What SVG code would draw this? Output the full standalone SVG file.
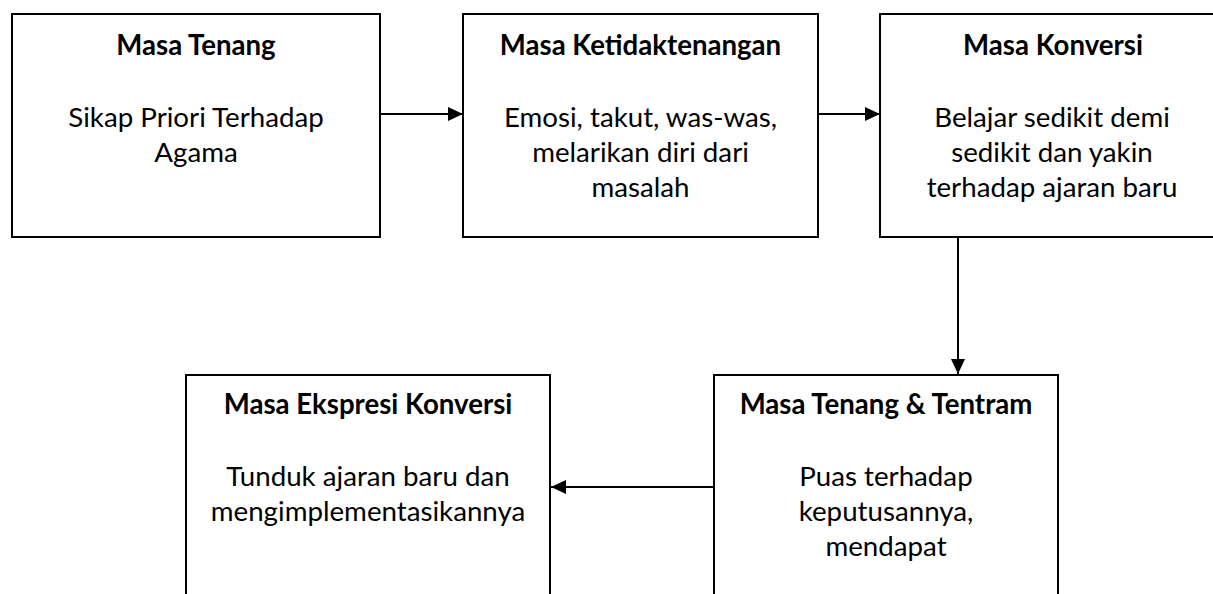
<svg xmlns="http://www.w3.org/2000/svg" width="1213" height="594" viewBox="0 0 1213 594">
  <style>
    .box { fill: #ffffff; stroke: #000000; stroke-width: 2; }
    .title { font-family: Lato, "Noto Sans", sans-serif; font-weight: bold; font-size: 27.6px; fill: #000; text-anchor: middle; }
    .body { font-family: Lato, "Noto Sans", sans-serif; font-size: 27.7px; fill: #000; text-anchor: middle; }
    .conn { stroke: #000; stroke-width: 2; fill: none; marker-end: url(#arrow); }
  </style>
  <defs>
    <marker id="arrow" markerUnits="userSpaceOnUse" markerWidth="16" markerHeight="16" refX="15" refY="8" orient="auto">
      <path d="M0,1 L15,8 L0,15 z" fill="#000"/>
    </marker>
  </defs>
  <rect x="0" y="0" width="1213" height="594" fill="#ffffff"/>

  <g id="node-masa-tenang">
    <rect class="box" x="12" y="14" width="368" height="223"/>
    <text class="title" x="196" y="55">Masa Tenang</text>
    <text class="body" x="196" y="127">Sikap Priori Terhadap</text>
    <text class="body" x="196" y="162">Agama</text>
  </g>

  <g id="node-masa-ketidaktenangan">
    <rect class="box" x="463" y="14" width="355" height="223"/>
    <text class="title" x="640.5" y="55">Masa Ketidaktenangan</text>
    <text class="body" x="640.5" y="127">Emosi, takut, was-was,</text>
    <text class="body" x="640.5" y="162">melarikan diri dari</text>
    <text class="body" x="640.5" y="197">masalah</text>
  </g>

  <g id="node-masa-konversi">
    <rect class="box" x="880" y="14" width="344" height="223"/>
    <text class="title" x="1053" y="55">Masa Konversi</text>
    <text class="body" x="1052" y="127">Belajar sedikit demi</text>
    <text class="body" x="1052" y="162">sedikit dan yakin</text>
    <text class="body" x="1052" y="197">terhadap ajaran baru</text>
  </g>

  <g id="node-masa-ekspresi-konversi">
    <rect class="box" x="186" y="375" width="364" height="240"/>
    <text class="title" x="368" y="414">Masa Ekspresi Konversi</text>
    <text class="body" x="368" y="486">Tunduk ajaran baru dan</text>
    <text class="body" x="368" y="521">mengimplementasikannya</text>
  </g>

  <g id="node-masa-tenang-tentram">
    <rect class="box" x="714" y="375" width="344" height="240"/>
    <text class="title" x="886" y="414">Masa Tenang &amp; Tentram</text>
    <text class="body" x="886" y="486">Puas terhadap</text>
    <text class="body" x="886" y="521">keputusannya,</text>
    <text class="body" x="886" y="556">mendapat</text>
  </g>

  <g id="connectors">
    <path class="conn" d="M381,114 L463,114"/>
    <path class="conn" d="M819,114 L880,114"/>
    <path class="conn" d="M958,238 L958,374"/>
    <path class="conn" d="M713,487 L551,487"/>
  </g>
</svg>
